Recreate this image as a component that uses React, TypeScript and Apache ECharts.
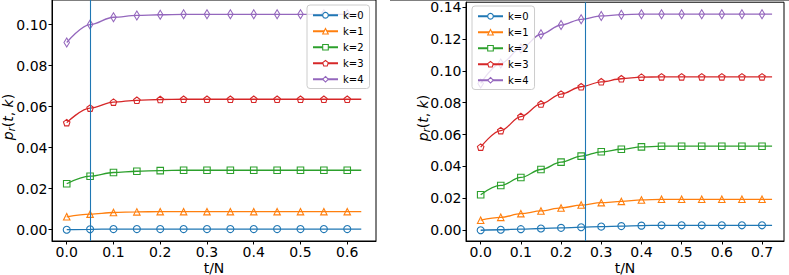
import React, { useEffect, useRef } from "react";
import * as echarts from "echarts";

// ---------- data ----------
const seriesNames = ["k=0", "k=1", "k=2", "k=3", "k=4"];

const tLeft = [0, 0.05, 0.1, 0.15, 0.2, 0.25, 0.3, 0.35, 0.4, 0.45, 0.5, 0.55, 0.6];
const leftLineEnd = 0.63;
const leftMarkT = 0.052;
const leftK0 = [0.0, 0.0002, 0.0003, 0.0003, 0.0003, 0.0003, 0.0003, 0.0003, 0.0003, 0.0003, 0.0003, 0.0003, 0.0003];
const leftK1 = [0.0063, 0.0076, 0.0084, 0.0087, 0.0088, 0.0088, 0.0088, 0.0088, 0.0088, 0.0088, 0.0088, 0.0088, 0.0088];
const leftK2 = [0.0224, 0.0261, 0.0279, 0.0285, 0.0288, 0.029, 0.029, 0.029, 0.029, 0.029, 0.029, 0.029, 0.029];
const leftK3 = [0.0522, 0.0593, 0.0622, 0.0631, 0.0635, 0.0636, 0.0636, 0.0636, 0.0636, 0.0636, 0.0636, 0.0636, 0.0636];
const leftK4 = [0.0913, 0.1, 0.1036, 0.1045, 0.1048, 0.105, 0.105, 0.105, 0.105, 0.105, 0.105, 0.105, 0.105];

const tRight = [0, 0.05, 0.1, 0.15, 0.2, 0.25, 0.3, 0.35, 0.4, 0.45, 0.5, 0.55, 0.6, 0.65, 0.7];
const rightLineEnd = 0.725;
const rightMarkT = 0.259;
const rightK0 = [0.0, 0.0003, 0.0007, 0.0011, 0.0015, 0.0019, 0.0023, 0.0026, 0.0029, 0.0031, 0.0031, 0.0031, 0.0031, 0.0031, 0.0031];
const rightK1 = [0.0063, 0.0081, 0.0104, 0.0121, 0.014, 0.0158, 0.0173, 0.0181, 0.019, 0.0194, 0.0194, 0.0194, 0.0194, 0.0194, 0.0194];
const rightK2 = [0.0223, 0.0281, 0.0331, 0.0381, 0.0427, 0.0465, 0.0492, 0.0508, 0.0523, 0.0527, 0.0527, 0.0527, 0.0527, 0.0527, 0.0527];
const rightK3 = [0.0521, 0.0625, 0.0713, 0.0792, 0.0854, 0.09, 0.0931, 0.095, 0.096, 0.0962, 0.0962, 0.0962, 0.0962, 0.0962, 0.0962];
const rightK4 = [0.0921, 0.1046, 0.114, 0.1229, 0.1287, 0.1323, 0.1344, 0.1352, 0.1355, 0.1355, 0.1355, 0.1355, 0.1355, 0.1355, 0.1355];

const leftXTicks = [0, 0.1, 0.2, 0.3, 0.4, 0.5, 0.6];
const rightXTicks = [0, 0.1, 0.2, 0.3, 0.4, 0.5, 0.6, 0.7];
const leftYTicks = [0, 0.02, 0.04, 0.06, 0.08, 0.1];
const rightYTicks = [0, 0.02, 0.04, 0.06, 0.08, 0.1, 0.12, 0.14];

// ---------- styles ----------
const colors = ["#1f77b4", "#ff7f0e", "#2ca02c", "#d62728", "#9467bd"];
const symbols = [
  "circle",
  "triangle",
  "rect",
  "path://M0,-1L0.951,-0.309L0.588,0.809L-0.588,0.809L-0.951,-0.309Z",
  "path://M0,-1L0.6,0L0,1L-0.6,0Z",
];
const symbolSizes: any[] = [7, 6.5, 6.5, 6.5, [5.5, 9]];
const FONT = "DejaVu Sans";

function buildSeries(t: number[], vals: number[], end: number, gi: number, idx: number, markT?: number) {
  const data: any[] = t.map((x, i) => [x, vals[i]]);
  data.push({ value: [end, vals[vals.length - 1]], symbol: "none" });
  const s: any = {
    type: "line",
    name: seriesNames[idx],
    xAxisIndex: gi,
    yAxisIndex: gi,
    data,
    smooth: 0.35,
    smoothMonotone: "x",
    symbol: symbols[idx],
    symbolSize: symbolSizes[idx],
    showAllSymbol: true,
    color: colors[idx],
    lineStyle: { color: colors[idx], width: 1.3 },
    itemStyle: { color: "rgba(255,255,255,0)", borderColor: colors[idx], borderWidth: 1.1 },
    emphasis: { disabled: true },
    z: 2,
  };
  if (markT !== undefined) {
    s.markLine = {
      silent: true,
      symbol: ["none", "none"],
      label: { show: false },
      lineStyle: { color: "#1f77b4", width: 1.1, type: "solid", opacity: 1 },
      emphasis: { disabled: true },
      data: [{ xAxis: markT }],
      z: 5,
    };
  }
  return s;
}

function axisCommon(ticks: number[], digits: number, isX: boolean) {
  return {
    type: "value",
    splitLine: { show: false },
    axisLine: { show: true, onZero: false, lineStyle: { color: "#000", width: 1 } },
    axisTick: { show: true, inside: false, length: 3.5, lineStyle: { color: "#000", width: 1 }, customValues: ticks },
    axisLabel: {
      show: true,
      customValues: ticks,
      formatter: (v: number) => v.toFixed(digits),
      fontFamily: FONT,
      fontSize: 14,
      color: "#000",
      margin: isX ? 4 : 4.5,
    },
  };
}

function legendCfg(left: number, top: number) {
  return {
    show: true,
    data: seriesNames,
    orient: "vertical",
    left,
    top,
    padding: [5, 6, 4, 5],
    itemWidth: 25,
    itemHeight: 7,
    itemGap: 5.5,
    selectedMode: false,
    backgroundColor: "rgba(255,255,255,0.8)",
    borderColor: "#cccccc",
    borderWidth: 1,
    borderRadius: 3,
    itemStyle: { color: "#ffffff", borderColor: "inherit", borderWidth: 1.1 },
    textStyle: { fontFamily: FONT, fontSize: 10, color: "#000", lineHeight: 10.5 },
    z: 10,
  };
}

function yLabel(x: number, y: number) {
  return {
    type: "text",
    x,
    y,
    rotation: Math.PI / 2,
    style: {
      text: "{i|p}{s|r}{n|(}{i|t}{n|, }{i|k}{n|)}",
      align: "center",
      verticalAlign: "middle",
      rich: {
        i: { fontFamily: FONT, fontStyle: "italic", fontSize: 14, fill: "#000" },
        n: { fontFamily: FONT, fontSize: 14, fill: "#000" },
        s: { fontFamily: FONT, fontStyle: "italic", fontSize: 10, fill: "#000", padding: [6, 0, 0, 0] },
      },
    },
  };
}

function xLabel(x: number, y: number) {
  return {
    type: "text",
    x,
    y,
    style: { text: "t/N", fontFamily: FONT, fontSize: 14, fill: "#000", align: "center", verticalAlign: "middle" },
  };
}

export default function App() {
  const ref = useRef<HTMLDivElement>(null);
  useEffect(() => {
    if (!ref.current) return;
    const chart = echarts.init(ref.current, null, { renderer: "svg" });
    const leftVals = [leftK0, leftK1, leftK2, leftK3, leftK4];
    const rightVals = [rightK0, rightK1, rightK2, rightK3, rightK4];
    const series: any[] = [];
    leftVals.forEach((v, i) => series.push(buildSeries(tLeft, v, leftLineEnd, 0, i, i === 0 ? leftMarkT : undefined)));
    rightVals.forEach((v, i) => series.push(buildSeries(tRight, v, rightLineEnd, 1, i, i === 0 ? rightMarkT : undefined)));

    chart.setOption({
      animation: false,
      backgroundColor: "#fff",
      grid: [
        { left: 52, top: -2, width: 324, height: 243, show: true, borderColor: "#000", borderWidth: 1, backgroundColor: "transparent" },
        { left: 466, top: 1, width: 318, height: 240, show: true, borderColor: "#000", borderWidth: 1, backgroundColor: "transparent" },
      ],
      xAxis: [
        { ...axisCommon(leftXTicks, 1, true), gridIndex: 0, min: -0.0315, max: 0.6615 },
        { ...axisCommon(rightXTicks, 1, true), gridIndex: 1, min: -0.0365, max: 0.7547 },
      ],
      yAxis: [
        { ...axisCommon(leftYTicks, 2, false), gridIndex: 0, min: -0.0055, max: 0.112 },
        { ...axisCommon(rightYTicks, 2, false), gridIndex: 1, min: -0.00674, max: 0.143 },
      ],
      legend: [legendCfg(307, 5), legendCfg(472, 6)],
      graphic: [
        yLabel(8, 117),
        yLabel(423, 118),
        xLabel(214, 268),
        xLabel(625, 268),
        { type: "line", shape: { x1: 390, y1: 0.5, x2: 789, y2: 0.5 }, style: { stroke: "#808080", lineWidth: 1 } },
      ],
      series,
    });
    return () => chart.dispose();
  }, []);
  return <div ref={ref} style={{ position: "absolute", left: 0, top: 0, width: 789, height: 275 }} />;
}
